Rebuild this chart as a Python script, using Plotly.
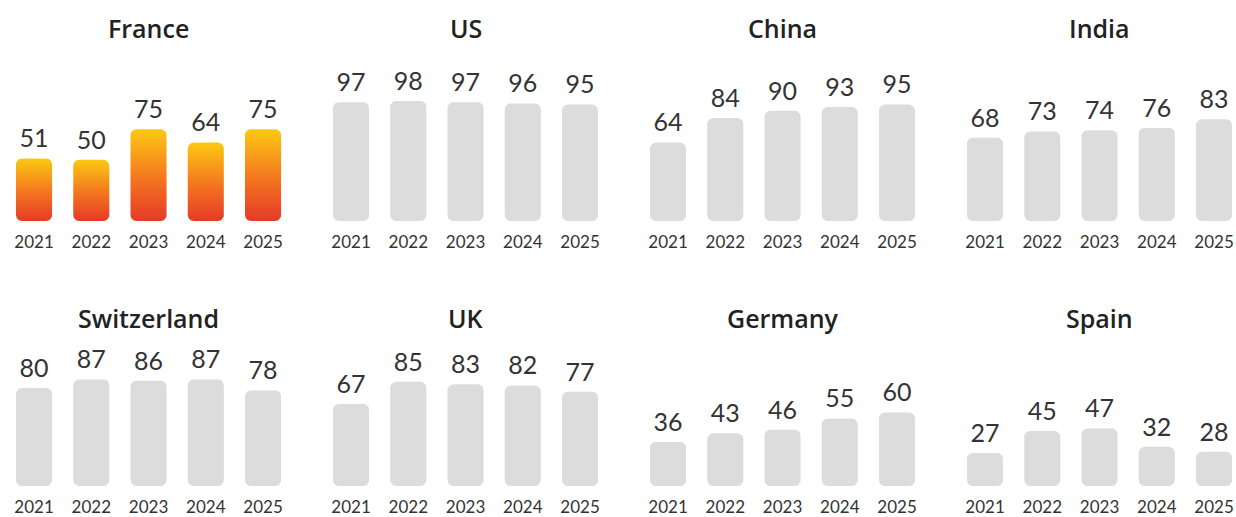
import plotly.graph_objects as go
import numpy as np

years = ["2021", "2022", "2023", "2024", "2025"]
countries = ["France", "US", "China", "India", "Switzerland", "UK", "Germany", "Spain"]
france = [51, 50, 75, 64, 75]
us = [97, 98, 97, 96, 95]
china = [64, 84, 90, 93, 95]
india = [68, 73, 74, 76, 83]
switzerland = [80, 87, 86, 87, 78]
uk = [67, 85, 83, 82, 77]
germany = [36, 43, 46, 55, 60]
spain = [27, 45, 47, 32, 28]
series = [france, us, china, india, switzerland, uk, germany, spain]

W, H = 1236, 517
STEP = 57.25          # px per category
PXY = 1.225           # px per value unit
YMAX = 120
BAR_HALF = 0.315
RAD = 6
FONT = "Lato"
TITLE_FONT = "Open Sans"
GRAY = "#dcdcdc"
GRAD = [[0, "#e53a27"], [0.45, "#f3741f"], [1, "#fcc912"]]

col_left = [5.4, 322.4, 639.4, 956.4]
row_base = [221, 486]
title_y = [28, 318]

def rounded_bar(xc, v):
    rx = RAD / STEP
    ry = RAD / PXY
    x0, x1 = xc - BAR_HALF, xc + BAR_HALF
    y0, y1 = 0, v
    xs, ys = [], []
    def arc(cx, cy, a0, a1):
        for t in np.linspace(a0, a1, 8):
            xs.append(cx + rx * np.cos(t))
            ys.append(cy + ry * np.sin(t))
    arc(x1 - rx, y0 + ry, -np.pi / 2, 0)
    arc(x1 - rx, y1 - ry, 0, np.pi / 2)
    arc(x0 + rx, y1 - ry, np.pi / 2, np.pi)
    arc(x0 + rx, y0 + ry, np.pi, 1.5 * np.pi)
    xs.append(xs[0]); ys.append(ys[0])
    return xs, ys

fig = go.Figure()
layout = {}
annotations = []
for i, (name, vals) in enumerate(zip(countries, series)):
    r, c = divmod(i, 4)
    n = i + 1
    xa = "x" if n == 1 else f"x{n}"
    ya = "y" if n == 1 else f"y{n}"
    left = col_left[c]
    right = min(left + 5 * STEP, W)
    xrange = [-0.5, -0.5 + (right - left) / STEP]
    base = row_base[r]
    top = base - YMAX * PXY
    dom_y = [1 - base / H, 1 - top / H]
    for k, v in enumerate(vals):
        xs, ys = rounded_bar(k, v)
        kw = dict(x=xs, y=ys, mode="lines", line=dict(width=0), fill="toself",
                  xaxis=xa, yaxis=ya, hoverinfo="skip", showlegend=False)
        if i == 0:
            kw["fillgradient"] = dict(type="vertical", colorscale=GRAD)
            kw["fillcolor"] = "#f3741f"
        else:
            kw["fillcolor"] = GRAY
        fig.add_trace(go.Scatter(**kw))
    fig.add_trace(go.Scatter(
        x=list(range(5)), y=[v + 4 for v in vals], text=[str(v) for v in vals],
        mode="text", textposition="top center",
        textfont=dict(family=FONT, size=25, color="#333333"),
        xaxis=xa, yaxis=ya, hoverinfo="skip", showlegend=False, cliponaxis=False))
    layout["xaxis" if n == 1 else f"xaxis{n}"] = dict(
        domain=[left / W, right / W], range=xrange, anchor=ya,
        tickmode="array", tickvals=list(range(5)), ticktext=years,
        showgrid=False, zeroline=False, showline=False,
        ticks="outside", ticklen=6, tickcolor="rgba(0,0,0,0)",
        tickfont=dict(family=FONT, size=17, color="#333333"), fixedrange=True)
    layout["yaxis" if n == 1 else f"yaxis{n}"] = dict(
        domain=dom_y, range=[0, YMAX], anchor=xa, visible=False, fixedrange=True)
    annotations.append(dict(
        text=name, x=(left + 5 * STEP / 2) / W, y=1 - title_y[r] / H,
        xref="paper", yref="paper", showarrow=False, xanchor="center", yanchor="middle",
        font=dict(family=TITLE_FONT, size=25, color="#222222", weight=600)))

fig.update_layout(**layout)
fig.update_layout(
    width=W, height=H, margin=dict(l=0, r=0, t=0, b=0),
    paper_bgcolor="white", plot_bgcolor="white", annotations=annotations,
    showlegend=False)
fig.write_html("out.html", config={"displayModeBar": False},
               post_script="document.body.style.margin='0px';document.body.style.overflow='hidden';")
